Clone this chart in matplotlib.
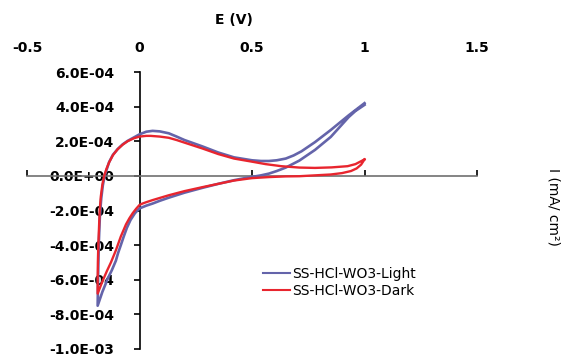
import matplotlib
matplotlib.use("Agg")
import matplotlib.pyplot as plt

# ---- data ----
light_E = [1.00, 0.96, 0.93, 0.85, 0.78, 0.71, 0.65, 0.61, 0.575, 0.54, 0.50, 0.46, 0.42,
           0.35, 0.28, 0.20, 0.13, 0.09, 0.058, 0.03, 0.0, -0.02, -0.04, -0.056, -0.07,
           -0.083, -0.095, -0.105, -0.123, -0.14, -0.165, -0.186,
           -0.185, -0.183, -0.180, -0.176, -0.170, -0.163, -0.155, -0.145, -0.135,
           -0.118, -0.097, -0.075, -0.053, -0.025, 0.0, 0.03, 0.058, 0.09, 0.13, 0.165,
           0.20, 0.28, 0.35, 0.42, 0.50, 0.54, 0.575, 0.61, 0.65, 0.685, 0.72, 0.78,
           0.85, 0.93, 1.00]
light_I = [4.1e-4, 3.75e-4, 3.4e-4, 2.25e-4, 1.5e-4, 8.8e-5, 4.8e-5, 2.8e-5, 1.3e-5, 3e-6,
           -6e-6, -1.5e-5, -2.5e-5, -4.6e-5, -6.9e-5, -9.7e-5, -1.26e-4, -1.44e-4,
           -1.6e-4, -1.72e-4, -1.88e-4, -2.15e-4, -2.55e-4, -3.0e-4, -3.5e-4, -4.0e-4,
           -4.45e-4, -4.9e-4, -5.45e-4, -5.9e-4, -6.7e-4, -7.5e-4,
           -6.6e-4, -5.2e-4, -3.6e-4, -2.3e-4, -1.3e-4, -5.5e-5, 0.0, 4e-5, 8e-5,
           1.22e-4, 1.55e-4, 1.82e-4, 2.02e-4, 2.22e-4, 2.4e-4, 2.55e-4, 2.6e-4,
           2.57e-4, 2.46e-4, 2.27e-4, 2.07e-4, 1.7e-4, 1.35e-4, 1.07e-4, 9.0e-5,
           8.6e-5, 8.6e-5, 9.0e-5, 1.0e-4, 1.18e-4, 1.42e-4, 1.95e-4, 2.65e-4, 3.5e-4,
           4.2e-4]

dark_E = [1.00, 0.985, 0.965, 0.94, 0.90, 0.85, 0.71, 0.65, 0.575, 0.50, 0.42, 0.35, 0.28,
          0.20, 0.13, 0.058, 0.03, 0.013, 0.0, -0.015, -0.03, -0.045, -0.06, -0.083,
          -0.105, -0.127, -0.145, -0.165, -0.186,
          -0.186, -0.185, -0.183, -0.180, -0.177, -0.172, -0.165, -0.157, -0.147,
          -0.135, -0.118, -0.097, -0.075, -0.053, -0.025, 0.0, 0.03, 0.05, 0.09, 0.13,
          0.165, 0.20, 0.28, 0.35, 0.42, 0.50, 0.56, 0.63, 0.71, 0.78, 0.854, 0.925,
          0.96, 1.00]
dark_I = [9.5e-5, 6.5e-5, 4.3e-5, 2.8e-5, 1.6e-5, 8e-6, -2e-6, -3e-6, -7e-6, -1.3e-5,
          -2.7e-5, -4.6e-5, -6.5e-5, -8.8e-5, -1.12e-4, -1.4e-4, -1.52e-4, -1.6e-4,
          -1.68e-4, -1.9e-4, -2.15e-4, -2.45e-4, -2.8e-4, -3.5e-4, -4.3e-4, -5.0e-4,
          -5.5e-4, -6.1e-4, -6.8e-4,
          -6.0e-4, -5.0e-4, -4.0e-4, -3.0e-4, -2.0e-4, -1.2e-4, -5e-5, 0.0, 4e-5,
          7.8e-5, 1.2e-4, 1.54e-4, 1.8e-4, 2.0e-4, 2.17e-4, 2.27e-4, 2.31e-4, 2.31e-4,
          2.27e-4, 2.2e-4, 2.07e-4, 1.92e-4, 1.58e-4, 1.26e-4, 1.0e-4, 8.2e-5, 6.8e-5,
          5.6e-5, 4.8e-5, 4.6e-5, 4.9e-5, 5.6e-5, 6.8e-5, 9.5e-5]

x_ticks = [-0.5, 0, 0.5, 1, 1.5]
x_tick_labels = ["-0.5", "0", "0.5", "1", "1.5"]
y_ticks = [-1.0e-3, -8.0e-4, -6.0e-4, -4.0e-4, -2.0e-4, 0.0, 2.0e-4, 4.0e-4, 6.0e-4]
y_tick_labels = ["-1.0E-03", "-8.0E-04", "-6.0E-04", "-4.0E-04", "-2.0E-04",
                 "0.0E+00", "2.0E-04", "4.0E-04", "6.0E-04"]
series_names = ["SS-HCl-WO3-Light", "SS-HCl-WO3-Dark"]

plt.rcParams['font.family'] = ['DejaVu Sans']

W, H = 570, 356
fig = plt.figure(figsize=(W / 100, H / 100), dpi=100)
ax = fig.add_axes([27 / W, 1 - 349 / H, 450 / W, 277 / H])

ax.plot(light_E, light_I, color="#6464aa", lw=1.9, label=series_names[0], zorder=3,
        solid_joinstyle='round')
ax.plot(dark_E, dark_I, color="#e8252e", lw=1.7, label=series_names[1], zorder=4,
        solid_joinstyle='round')

ax.set_xlim(-0.5, 1.5)
ax.set_ylim(-1.0e-3, 6.0e-4)

ax.spines['top'].set_visible(False)
ax.spines['right'].set_visible(False)
ax.spines['bottom'].set_position(('data', 0))
ax.spines['left'].set_position(('data', 0))
ax.spines['bottom'].set_color('#707070')
ax.spines['bottom'].set_linewidth(1.2)
ax.spines['left'].set_color('black')
ax.spines['left'].set_linewidth(1.2)

ax.set_xticks(x_ticks)
ax.set_xticklabels(x_tick_labels, fontsize=10, fontweight='bold')
ax.tick_params(axis='x', which='both', bottom=True, top=False, labelbottom=False,
               labeltop=True, direction='in', length=4, width=1.2, color='black', pad=12)

ax.set_yticks(y_ticks)
ax.set_yticklabels(y_tick_labels, fontsize=10, fontweight='bold')
ax.tick_params(axis='y', direction='out', length=4, width=1.2, color='black', pad=14)

fig.text(234 / W, 1 - 20 / H, "E (V)", ha='center', va='center', fontsize=10,
         fontweight='bold')
fig.text(554 / W, 1 - 207 / H, "I (mA/ cm²)", ha='center', va='center', fontsize=10,
         rotation=270)

leg = ax.legend(loc='upper left', bbox_to_anchor=(263 / W, 1 - 267 / H),
                bbox_transform=fig.transFigure, frameon=False, fontsize=10,
                handlelength=1.95, handletextpad=0.15, labelspacing=0.2,
                borderpad=0, borderaxespad=0)
for line in leg.get_lines():
    line.set_linewidth(1.5)

fig.savefig("out.png", dpi=100)
